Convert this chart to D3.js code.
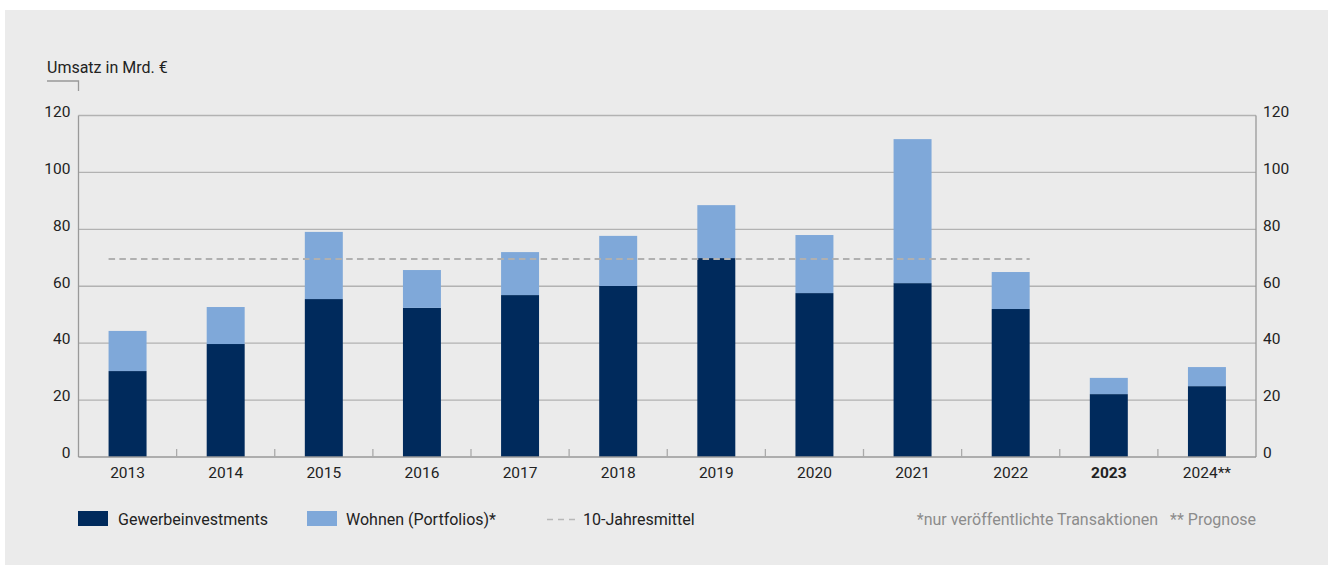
<!DOCTYPE html>
<html><head><meta charset="utf-8">
<script src="https://cdn.jsdelivr.net/npm/d3@7"></script>
<style>
html,body{margin:0;padding:0;background:#fff;}
svg{display:block;font-family:Roboto,"Noto Sans",sans-serif;}
</style></head>
<body>
<svg id="chart" width="1333" height="569"></svg>
<script>
const years = ["2013","2014","2015","2016","2017","2018","2019","2020","2021","2022","2023","2024**"];
const gewerbe = [30.2,39.7,55.5,52.4,56.9,60.1,69.9,57.6,61.1,52.0,22.1,24.9];
const totals  = [44.3,52.7,79.1,65.7,72.0,77.7,88.5,78.0,111.7,65.0,27.8,31.6];
const wohnen = totals.map((t,i)=>+(t-gewerbe[i]).toFixed(1));
const tenYearMean = 69.6;
const meanYears = ["2013","2022"];
const yTicks = [0,20,40,60,80,100,120];
const boldYear = "2023";
const colors = {gewerbe:"#002a5c", wohnen:"#7fa8d9"};

const svg = d3.select("#chart");
svg.append("rect").attr("x",5).attr("y",10).attr("width",1323).attr("height",555).attr("fill","#ebebeb");

const L=78.5, R=1256, T=115.5, B=457;
const x = d3.scaleBand().domain(years).range([L,R]).paddingInner(0.613).paddingOuter(0.3065);
const y = d3.scaleLinear().domain([0,120]).range([B,T]);

// gridlines
svg.append("g").selectAll("line").data(yTicks.filter(d=>d>0)).join("line")
  .attr("x1",L).attr("x2",R).attr("y1",d=>y(d)).attr("y2",d=>y(d))
  .attr("stroke","#b2b2b2").attr("stroke-width",1.3);

// left/right axis labels
const yl = d3.axisLeft(y).tickValues(yTicks).tickSize(0).tickPadding(8);
const gl = svg.append("g").attr("transform",`translate(${L},0)`).call(yl);
gl.select(".domain").remove();
gl.selectAll("text").attr("font-size",15.5).attr("fill","#222").attr("dy","0.05em").attr("font-family","Roboto");
const yr = d3.axisRight(y).tickValues(yTicks).tickSize(0).tickPadding(7);
const gr = svg.append("g").attr("transform",`translate(${R},0)`).call(yr);
gr.select(".domain").remove();
gr.selectAll("text").attr("font-size",15.5).attr("fill","#222").attr("dy","0.05em").attr("font-family","Roboto");

// axis lines
svg.append("line").attr("x1",L).attr("x2",L).attr("y1",T).attr("y2",B).attr("stroke","#999").attr("stroke-width",1.3);
svg.append("line").attr("x1",R).attr("x2",R).attr("y1",T).attr("y2",B).attr("stroke","#999").attr("stroke-width",1.3);

// bars
const stackData = years.map((yr,i)=>({year:yr,gewerbe:gewerbe[i],wohnen:wohnen[i]}));
const stack = d3.stack().keys(["gewerbe","wohnen"])(stackData);
svg.append("g").selectAll("g").data(stack).join("g").attr("fill",d=>colors[d.key])
  .selectAll("rect").data(d=>d).join("rect")
  .attr("x",d=>x(d.data.year)).attr("width",x.bandwidth())
  .attr("y",d=>y(d[1])).attr("height",d=>y(d[0])-y(d[1]));

// mean dashed line
svg.append("line")
  .attr("x1",x(meanYears[0])).attr("x2",x(meanYears[1])+x.bandwidth())
  .attr("y1",y(tenYearMean)).attr("y2",y(tenYearMean))
  .attr("stroke","#b0b0b0").attr("stroke-width",2).attr("stroke-dasharray","6.5,4.3");

// x axis
svg.append("line").attr("x1",L).attr("x2",R).attr("y1",B).attr("y2",B).attr("stroke","#999").attr("stroke-width",1.3);
const step = x.step();
svg.append("g").selectAll("line").data(years.slice(1)).join("line")
  .attr("x1",d=>x(d)-(step-x.bandwidth())/2).attr("x2",d=>x(d)-(step-x.bandwidth())/2)
  .attr("y1",B-8).attr("y2",B).attr("stroke","#aaa").attr("stroke-width",1.3);
svg.append("g").selectAll("text").data(years).join("text")
  .attr("x",d=>x(d)+x.bandwidth()/2).attr("y",478)
  .attr("text-anchor","middle").attr("font-size",15.5).attr("fill","#222")
  .attr("font-weight",d=>d===boldYear?"bold":"normal").text(d=>d);

// y title + bracket
svg.append("text").attr("x",47).attr("y",73).attr("font-size",16).attr("fill","#222").text("Umsatz in Mrd. €");
svg.append("path").attr("d",`M47,81H${L}V91`).attr("fill","none").attr("stroke","#999").attr("stroke-width",1.3);

// legend
const lg = svg.append("g");
lg.append("rect").attr("x",78).attr("y",511).attr("width",30).attr("height",15).attr("fill",colors.gewerbe);
lg.append("text").attr("x",118).attr("y",525).attr("font-size",16).attr("fill","#222").text("Gewerbeinvestments");
lg.append("rect").attr("x",307).attr("y",511).attr("width",30).attr("height",15).attr("fill",colors.wohnen);
lg.append("text").attr("x",346).attr("y",525).attr("font-size",16).attr("fill","#222").text("Wohnen (Portfolios)*");
lg.append("line").attr("x1",547).attr("x2",575).attr("y1",519.5).attr("y2",519.5)
  .attr("stroke","#b8b8b8").attr("stroke-width",1.5).attr("stroke-dasharray","6,5");
lg.append("text").attr("x",583).attr("y",525).attr("font-size",16).attr("fill","#222").text("10-Jahresmittel");
lg.append("text").attr("x",1256).attr("y",525).attr("text-anchor","end").attr("font-size",16).attr("fill","#8c8c8c")
  .attr("xml:space","preserve").text("*nur veröffentlichte Transaktionen   ** Prognose");
</script>
</body></html>
